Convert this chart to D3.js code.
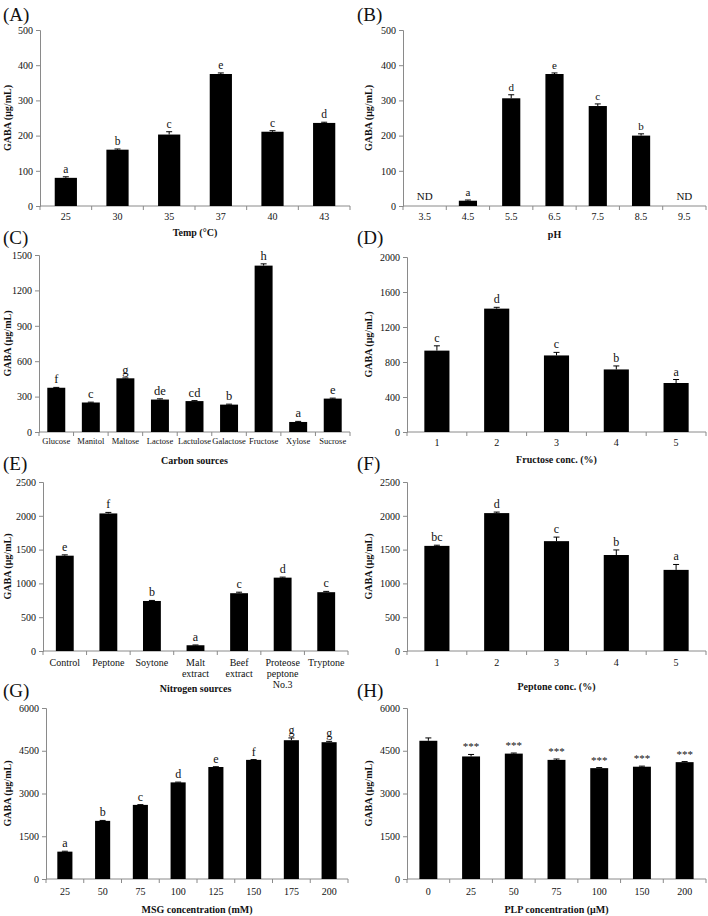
<!DOCTYPE html>
<html>
<head>
<meta charset="utf-8">
<script src="https://cdn.jsdelivr.net/npm/d3@7"></script>
<style>
body { margin: 0; background: #fff; }
text { font-family: "Liberation Serif", "Times New Roman", serif; fill: #111; }
</style>
</head>
<body>
<svg id="fig" width="708" height="916"></svg>
<script>
// (A) temperature
var tempCats = ["25", "30", "35", "37", "40", "43"];
var tempVals = [80, 160, 203, 375, 211, 236];
var tempErr = [3, 2, 8, 3, 3, 2];
var tempSig = ["a", "b", "c", "e", "c", "d"];
var tempTicks = [0, 100, 200, 300, 400, 500];

// (B) pH  (null = not detected)
var phCats = ["3.5", "4.5", "5.5", "6.5", "7.5", "8.5", "9.5"];
var phVals = [null, 15, 306, 375, 284, 200, null];
var phErr = [0, 2, 10, 3, 6, 5, 0];
var phSig = ["ND", "a", "d", "e", "c", "b", "ND"];
var phTicks = [0, 100, 200, 300, 400, 500];

// (C) carbon sources
var carbonCats = ["Glucose", "Manitol", "Maltose", "Lactose", "Lactulose", "Galactose", "Fructose", "Xylose", "Sucrose"];
var carbonVals = [375, 250, 455, 275, 262, 232, 1410, 85, 283];
var carbonErr = [3, 3, 3, 6, 4, 4, 15, 5, 4];
var carbonSig = ["f", "c", "g", "de", "cd", "b", "h", "a", "e"];
var carbonTicks = [0, 300, 600, 900, 1200, 1500];

// (D) fructose concentration
var fruCats = ["1", "2", "3", "4", "5"];
var fruVals = [930, 1410, 875, 715, 560];
var fruErr = [55, 15, 35, 40, 40];
var fruSig = ["c", "d", "c", "b", "a"];
var fruTicks = [0, 400, 800, 1200, 1600, 2000];

// (E) nitrogen sources
var nitroCats = [["Control"], ["Peptone"], ["Soytone"], ["Malt", "extract"], ["Beef", "extract"], ["Proteose", "peptone", "No.3"], ["Tryptone"]];
var nitroVals = [1410, 2035, 740, 85, 855, 1085, 870];
var nitroErr = [12, 15, 8, 4, 15, 8, 12];
var nitroSig = ["e", "f", "b", "a", "c", "d", "c"];
var nitroTicks = [0, 500, 1000, 1500, 2000, 2500];

// (F) peptone concentration
var pepCats = ["1", "2", "3", "4", "5"];
var pepVals = [1555, 2040, 1625, 1420, 1200];
var pepErr = [10, 15, 60, 75, 80];
var pepSig = ["bc", "d", "c", "b", "a"];
var pepTicks = [0, 500, 1000, 1500, 2000, 2500];

// (G) MSG concentration
var msgCats = ["25", "50", "75", "100", "125", "150", "175", "200"];
var msgVals = [960, 2040, 2600, 3390, 3930, 4180, 4870, 4800];
var msgErr = [15, 15, 10, 10, 10, 10, 80, 30];
var msgSig = ["a", "b", "c", "d", "e", "f", "g", "g"];
var msgTicks = [0, 1500, 3000, 4500, 6000];

// (H) PLP concentration
var plpCats = ["0", "25", "50", "75", "100", "150", "200"];
var plpVals = [4850, 4300, 4400, 4180, 3890, 3940, 4100];
var plpErr = [100, 70, 20, 30, 20, 20, 20];
var plpSig = ["", "***", "***", "***", "***", "***", "***"];
var plpTicks = [0, 1500, 3000, 4500, 6000];

var panels = [
  {tag: "(A)", cats: tempCats, vals: tempVals, err: tempErr, sig: tempSig, ticks: tempTicks, title: "Temp (\u00B0C)",
   x0: 40, x1: 350, yTop: 30, yZero: 206, pad: 0.57, tickY: 216, titleY: 232, gx: 7, lx: 3, ly: 14, fs: 10, sfs: 11.5},
  {tag: "(B)", cats: phCats, vals: phVals, err: phErr, sig: phSig, ticks: phTicks, title: "pH",
   x0: 403, x1: 706, yTop: 30, yZero: 206, pad: 0.58, tickY: 216, titleY: 234, gx: 368, lx: 357, ly: 14, fs: 10, sfs: 11},
  {tag: "(C)", cats: carbonCats, vals: carbonVals, err: carbonErr, sig: carbonSig, ticks: carbonTicks, title: "Carbon sources",
   x0: 39, x1: 350, yTop: 255, yZero: 432, pad: 0.48, tickY: 441, titleY: 460, gx: 7, lx: 3, ly: 237, fs: 8.5, sfs: 12.5},
  {tag: "(D)", cats: fruCats, vals: fruVals, err: fruErr, sig: fruSig, ticks: fruTicks, title: "Fructose conc. (%)",
   x0: 407, x1: 706, yTop: 257, yZero: 432, pad: 0.58, tickY: 442, titleY: 459, gx: 368, lx: 357, ly: 237, fs: 10, sfs: 12},
  {tag: "(E)", cats: nitroCats, vals: nitroVals, err: nitroErr, sig: nitroSig, ticks: nitroTicks, title: "Nitrogen sources",
   x0: 43, x1: 348, yTop: 482, yZero: 651, pad: 0.59, tickY: 662, titleY: 688, gx: 7, lx: 3, ly: 463, fs: 10, sfs: 12},
  {tag: "(F)", cats: pepCats, vals: pepVals, err: pepErr, sig: pepSig, ticks: pepTicks, title: "Peptone conc. (%)",
   x0: 407, x1: 706, yTop: 482, yZero: 651, pad: 0.58, tickY: 662, titleY: 686, gx: 368, lx: 357, ly: 463, fs: 10, sfs: 12},
  {tag: "(G)", cats: msgCats, vals: msgVals, err: msgErr, sig: msgSig, ticks: msgTicks, title: "MSG concentration (mM)",
   x0: 46, x1: 348, yTop: 708, yZero: 879, pad: 0.6, tickY: 891, titleY: 909, gx: 7, lx: 3, ly: 690, fs: 10, sfs: 12},
  {tag: "(H)", cats: plpCats, vals: plpVals, err: plpErr, sig: plpSig, ticks: plpTicks, title: "PLP concentration (\u03BCM)",
   x0: 407, x1: 706, yTop: 708, yZero: 879, pad: 0.58, tickY: 891, titleY: 909, gx: 368, lx: 357, ly: 690, fs: 10, sfs: 11}
];

var svg = d3.select("#fig");
var axisCol = "#8a8a8a";

panels.forEach(function(p) {
  var g = svg.append("g");
  var keys = p.cats.map(function(c, i) { return i; });
  var x = d3.scaleBand().domain(keys).range([p.x0, p.x1]).paddingInner(p.pad).paddingOuter(p.pad / 2);
  var yMax = p.ticks[p.ticks.length - 1];
  var y = d3.scaleLinear().domain([0, yMax]).range([p.yZero, p.yTop]);

  // y axis
  var ya = g.append("g").attr("transform", "translate(" + p.x0 + ",0)")
    .call(d3.axisLeft(y).tickValues(p.ticks).tickSize(4).tickPadding(3).tickFormat(d3.format("d")));
  ya.select(".domain").attr("stroke", axisCol);
  ya.selectAll(".tick line").attr("stroke", axisCol);
  ya.selectAll(".tick text").attr("font-size", 10).attr("font-family", "Liberation Serif").attr("fill", "#111");

  // x axis with ticks between categories
  g.append("line").attr("x1", p.x0).attr("x2", p.x1).attr("y1", p.yZero).attr("y2", p.yZero)
    .attr("stroke", axisCol);
  var step = x.step();
  var bounds = d3.range(p.cats.length + 1).map(function(i) { return p.x0 + i * step; });
  g.selectAll(".xt").data(bounds).enter().append("line")
    .attr("x1", function(d) { return d; }).attr("x2", function(d) { return d; })
    .attr("y1", p.yZero).attr("y2", p.yZero + 4).attr("stroke", axisCol);

  // category labels
  p.cats.forEach(function(c, i) {
    var lines = Array.isArray(c) ? c : [c];
    var t = g.append("text").attr("x", x(i) + x.bandwidth() / 2).attr("y", p.tickY)
      .attr("text-anchor", "middle").attr("font-size", p.fs);
    lines.forEach(function(l, k) {
      t.append("tspan").attr("x", x(i) + x.bandwidth() / 2).attr("dy", k === 0 ? "0.35em" : "1.1em").text(l);
    });
  });

  // bars
  var data = p.vals.map(function(v, i) { return {i: i, v: v, e: p.err[i], s: p.sig[i]}; });
  var real = data.filter(function(d) { return d.v !== null; });
  g.selectAll(".bar").data(real).enter().append("rect")
    .attr("x", function(d) { return x(d.i); }).attr("width", x.bandwidth())
    .attr("y", function(d) { return y(d.v); }).attr("height", function(d) { return y(0) - y(d.v); })
    .attr("fill", "#000");

  // error bars (upper only)
  g.selectAll(".eb").data(real).enter().append("line")
    .attr("x1", function(d) { return x(d.i) + x.bandwidth() / 2; })
    .attr("x2", function(d) { return x(d.i) + x.bandwidth() / 2; })
    .attr("y1", function(d) { return y(d.v); }).attr("y2", function(d) { return y(d.v + d.e); })
    .attr("stroke", "#000");
  g.selectAll(".ec").data(real).enter().append("line")
    .attr("x1", function(d) { return x(d.i) + x.bandwidth() / 2 - 3; })
    .attr("x2", function(d) { return x(d.i) + x.bandwidth() / 2 + 3; })
    .attr("y1", function(d) { return y(d.v + d.e); }).attr("y2", function(d) { return y(d.v + d.e); })
    .attr("stroke", "#000");

  // significance letters
  g.selectAll(".sig").data(data).enter().append("text")
    .attr("x", function(d) { return x(d.i) + x.bandwidth() / 2; })
    .attr("y", function(d) { return d.v === null ? p.yZero - 6 : y(d.v + d.e) - 4; })
    .attr("text-anchor", "middle").attr("font-size", p.sfs)
    .text(function(d) { return d.s; });

  // axis titles
  g.append("text").attr("x", (p.x0 + p.x1) / 2).attr("y", p.titleY).attr("dy", "0.35em")
    .attr("text-anchor", "middle").attr("font-size", 10).attr("font-weight", "bold").text(p.title);
  g.append("text").attr("transform", "translate(" + p.gx + "," + ((p.yTop + p.yZero) / 2) + ") rotate(-90)")
    .attr("dy", "0.35em").attr("text-anchor", "middle").attr("font-size", 10).attr("font-weight", "bold")
    .text("GABA (\u03BCg/mL)");

  // panel tag
  g.append("text").attr("x", p.lx).attr("y", p.ly).attr("dy", "0.35em").attr("font-size", 19).text(p.tag);
});
</script>
</body>
</html>
